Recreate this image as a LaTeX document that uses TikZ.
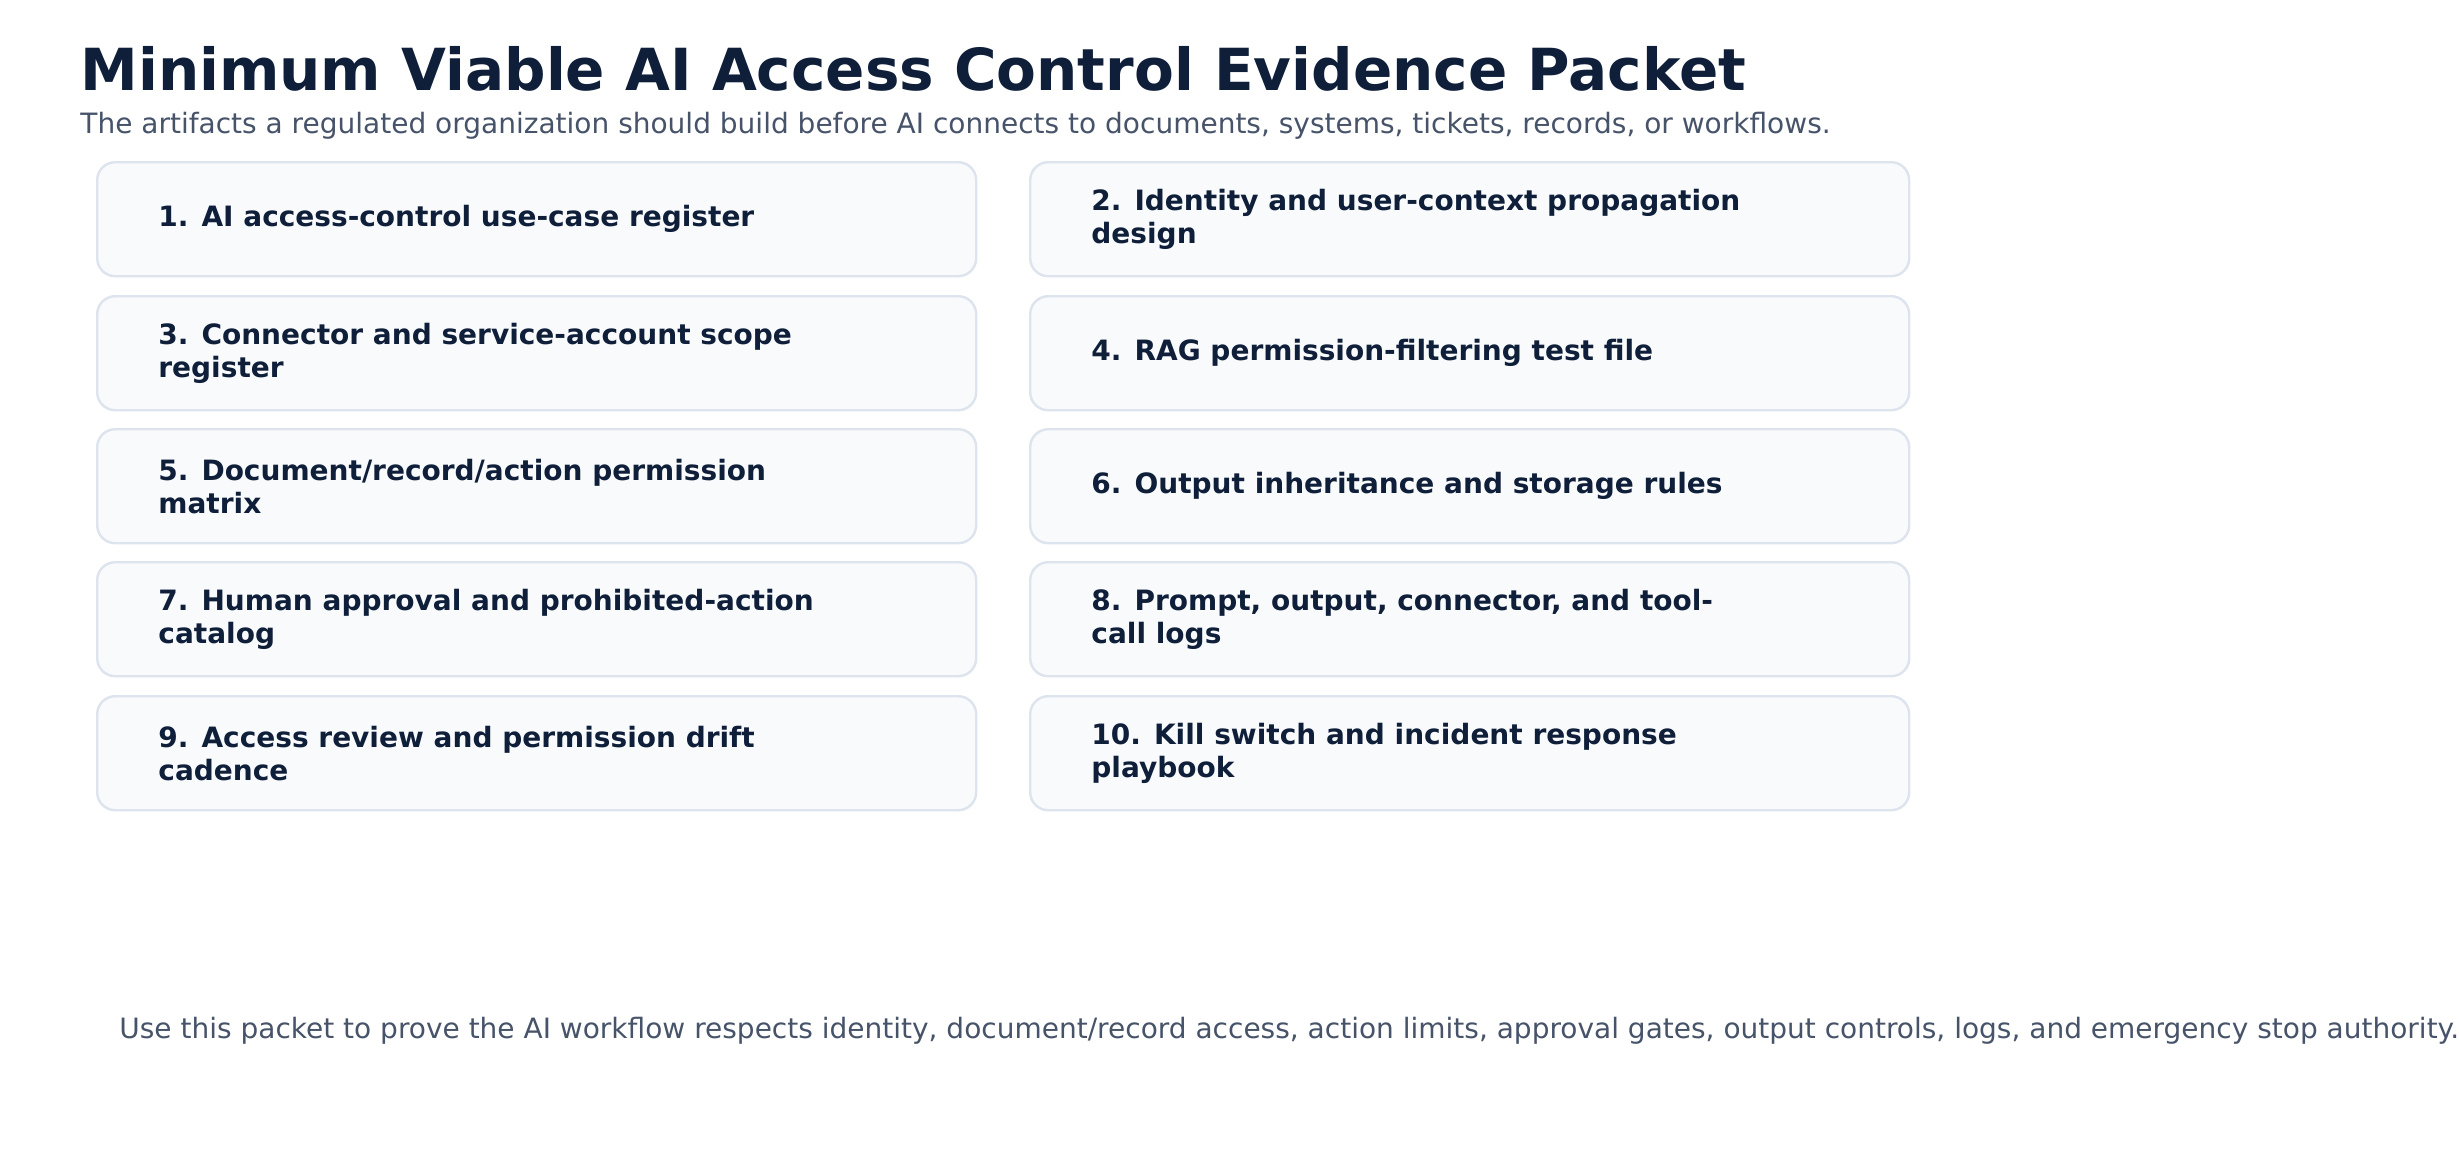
\documentclass[tikz,border=0pt]{standalone}
\usepackage{fontspec}
\setmainfont{DejaVu Sans}
\definecolor{navy}{HTML}{0F1F3A}
\definecolor{sub}{HTML}{465369}
\definecolor{boxfill}{HTML}{F8FAFC}
\definecolor{boxline}{HTML}{DDE4EE}
\tikzset{
  card/.style={draw=boxline, line width=1.2pt, fill=boxfill, rounded corners=9pt, minimum width=879*0.5pt, minimum height=114*0.5pt, anchor=north west},
  cardtext/.style={anchor=west, align=left, text=navy, font=\fontsize{14}{16.5}\selectfont\bfseries},
}
\begin{document}
\begin{tikzpicture}[x=0.5pt,y=-0.5pt]
\useasboundingbox[fill=white] (0,0) rectangle (2459,1148);
\node[anchor=west, inner sep=0, text=navy, font=\fontsize{29}{34}\selectfont\bfseries] (title) at (80,69) {Minimum Viable AI Access Control Evidence Packet};
\node[anchor=west, inner sep=0, text=sub, font=\fontsize{14}{17}\selectfont] (subtitle) at (80,126) {The artifacts a regulated organization should build before AI connects to documents, systems, tickets, records, or workflows.};
\foreach \i/\y/\a/\b in {1/161/{1. AI access-control use-case register}/{2. Identity and user-context propagation\\design},
  2/295/{3. Connector and service-account scope\\register}/{4. RAG permission-filtering test file},
  3/428/{5. Document/record/action permission\\matrix}/{6. Output inheritance and storage rules},
  4/561/{7. Human approval and prohibited-action\\catalog}/{8. Prompt, output, connector, and tool-\\call logs},
  5/695/{9. Access review and permission drift\\cadence}/{10. Kill switch and incident response\\playbook}}{
  \node[card] (L\i) at (96,\y) {};
  \node[card] (R\i) at (1029,\y) {};
  \node[cardtext, inner sep=0] (LT\i) at ([xshift=31pt]L\i.west) {\a};
  \node[cardtext, inner sep=0] (RT\i) at ([xshift=31pt]R\i.west) {\b};
}
\node[anchor=west, inner sep=0, text=sub, font=\fontsize{14}{17}\selectfont] (footer) at (119,1031) {Use this packet to prove the AI workflow respects identity, document/record access, action limits, approval gates, output controls, logs, and emergency stop authority.};
\end{tikzpicture}
\end{document}
